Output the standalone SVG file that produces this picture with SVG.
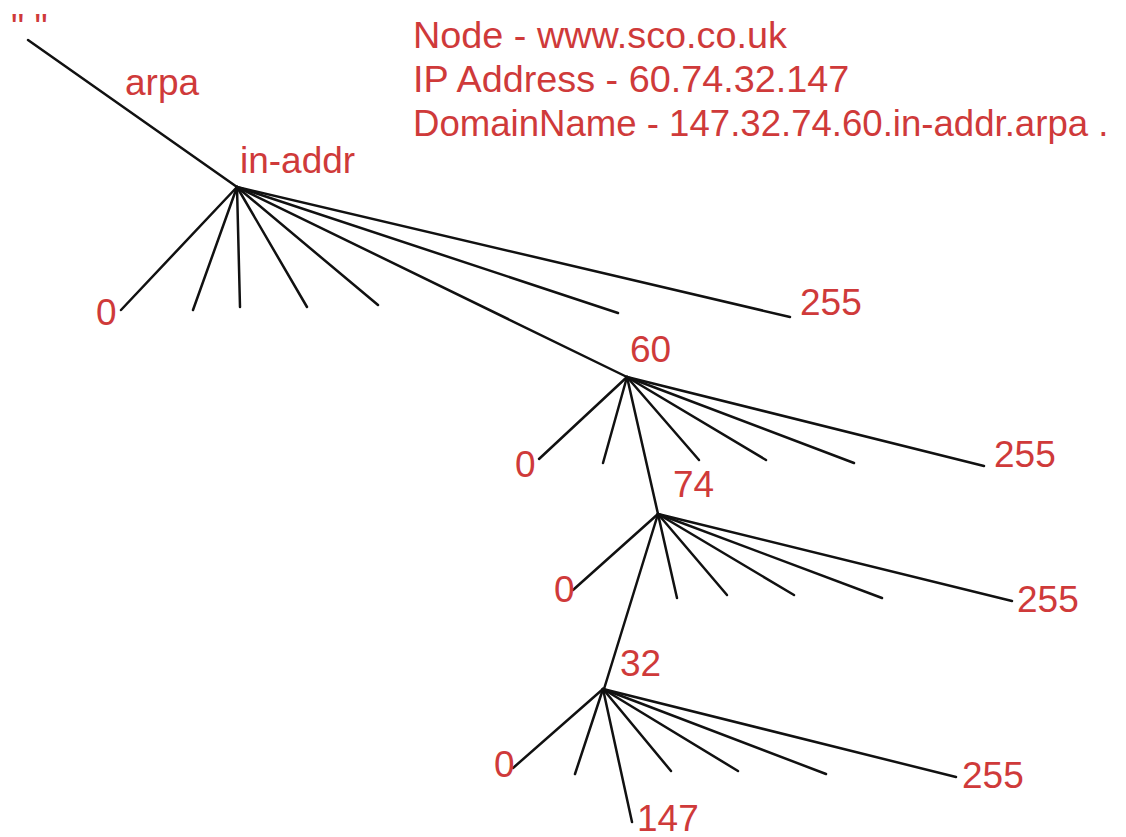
<svg xmlns="http://www.w3.org/2000/svg" width="1126" height="837" viewBox="0 0 1126 837">
  <style>
    .lbl { font-family: "Liberation Sans", Arial, sans-serif; font-size: 37px; fill: #cf3a3a; }
    .hdr { font-family: "Liberation Sans", Arial, sans-serif; font-size: 37.8px; fill: #cf3a3a; }
    .hdr-long { font-size: 36.6px; }
    .edge { stroke: #111111; stroke-width: 2.5; stroke-linecap: round; fill: none; }
  </style>
  <rect width="1126" height="837" fill="#ffffff"/>

  <!-- info block -->
  <g id="info">
    <text class="hdr" x="413" y="48">Node - www.sco.co.uk</text>
    <text class="hdr" x="413" y="92">IP Address - 60.74.32.147</text>
    <text class="hdr hdr-long" x="413" y="136">DomainName - 147.32.74.60.in-addr.arpa .</text>
  </g>

  <!-- tree connectors -->
  <g id="connectors">
    <!-- root to in-addr -->
    <line class="edge" x1="28" y1="40" x2="237" y2="187"/>
    <!-- in-addr fan -->
    <line class="edge" x1="237" y1="187" x2="121" y2="310"/>
    <line class="edge" x1="237" y1="187" x2="193" y2="310"/>
    <line class="edge" x1="237" y1="187" x2="240" y2="307"/>
    <line class="edge" x1="237" y1="187" x2="307" y2="307"/>
    <line class="edge" x1="237" y1="187" x2="378" y2="305"/>
    <line class="edge" x1="237" y1="187" x2="618" y2="313"/>
    <line class="edge" x1="237" y1="187" x2="627" y2="377"/>
    <line class="edge" x1="237" y1="187" x2="790" y2="317"/>
    <!-- 60 fan -->
    <line class="edge" x1="627" y1="377" x2="539" y2="459"/>
    <line class="edge" x1="627" y1="377" x2="603" y2="463"/>
    <line class="edge" x1="627" y1="377" x2="658" y2="514"/>
    <line class="edge" x1="627" y1="377" x2="699" y2="460"/>
    <line class="edge" x1="627" y1="377" x2="766" y2="460"/>
    <line class="edge" x1="627" y1="377" x2="854" y2="463"/>
    <line class="edge" x1="627" y1="377" x2="984" y2="466"/>
    <!-- 74 fan -->
    <line class="edge" x1="658" y1="514" x2="573" y2="590"/>
    <line class="edge" x1="658" y1="514" x2="604" y2="689"/>
    <line class="edge" x1="658" y1="514" x2="677" y2="598"/>
    <line class="edge" x1="658" y1="514" x2="727" y2="595"/>
    <line class="edge" x1="658" y1="514" x2="794" y2="595"/>
    <line class="edge" x1="658" y1="514" x2="882" y2="598"/>
    <line class="edge" x1="658" y1="514" x2="1012" y2="601"/>
    <!-- 32 fan -->
    <line class="edge" x1="603" y1="689" x2="513" y2="768"/>
    <line class="edge" x1="603" y1="689" x2="575" y2="774"/>
    <line class="edge" x1="603" y1="689" x2="632" y2="822"/>
    <line class="edge" x1="603" y1="689" x2="671" y2="771"/>
    <line class="edge" x1="603" y1="689" x2="738" y2="771"/>
    <line class="edge" x1="603" y1="689" x2="826" y2="774"/>
    <line class="edge" x1="603" y1="689" x2="956" y2="777"/>
  </g>

  <!-- tree nodes -->
  <g id="node-root"><text class="lbl" x="11" y="40">" "</text></g>
  <g id="node-arpa"><text class="lbl" x="125" y="95">arpa</text></g>
  <g id="node-in-addr"><text class="lbl" x="240" y="173">in-addr</text></g>
  <g id="node-in-addr-0"><text class="lbl" x="96" y="325">0</text></g>
  <g id="node-in-addr-255"><text class="lbl" x="800" y="315">255</text></g>

  <g id="node-60"><text class="lbl" x="630" y="362">60</text></g>
  <g id="node-60-0"><text class="lbl" x="515" y="477">0</text></g>
  <g id="node-60-255"><text class="lbl" x="994" y="467">255</text></g>

  <g id="node-74"><text class="lbl" x="673" y="497">74</text></g>
  <g id="node-74-0"><text class="lbl" x="554" y="602">0</text></g>
  <g id="node-74-255"><text class="lbl" x="1017" y="612">255</text></g>

  <g id="node-32"><text class="lbl" x="620" y="676">32</text></g>
  <g id="node-32-0"><text class="lbl" x="494" y="777">0</text></g>
  <g id="node-32-255"><text class="lbl" x="962" y="788">255</text></g>

  <g id="node-147"><text class="lbl" x="637" y="831">147</text></g>
</svg>
